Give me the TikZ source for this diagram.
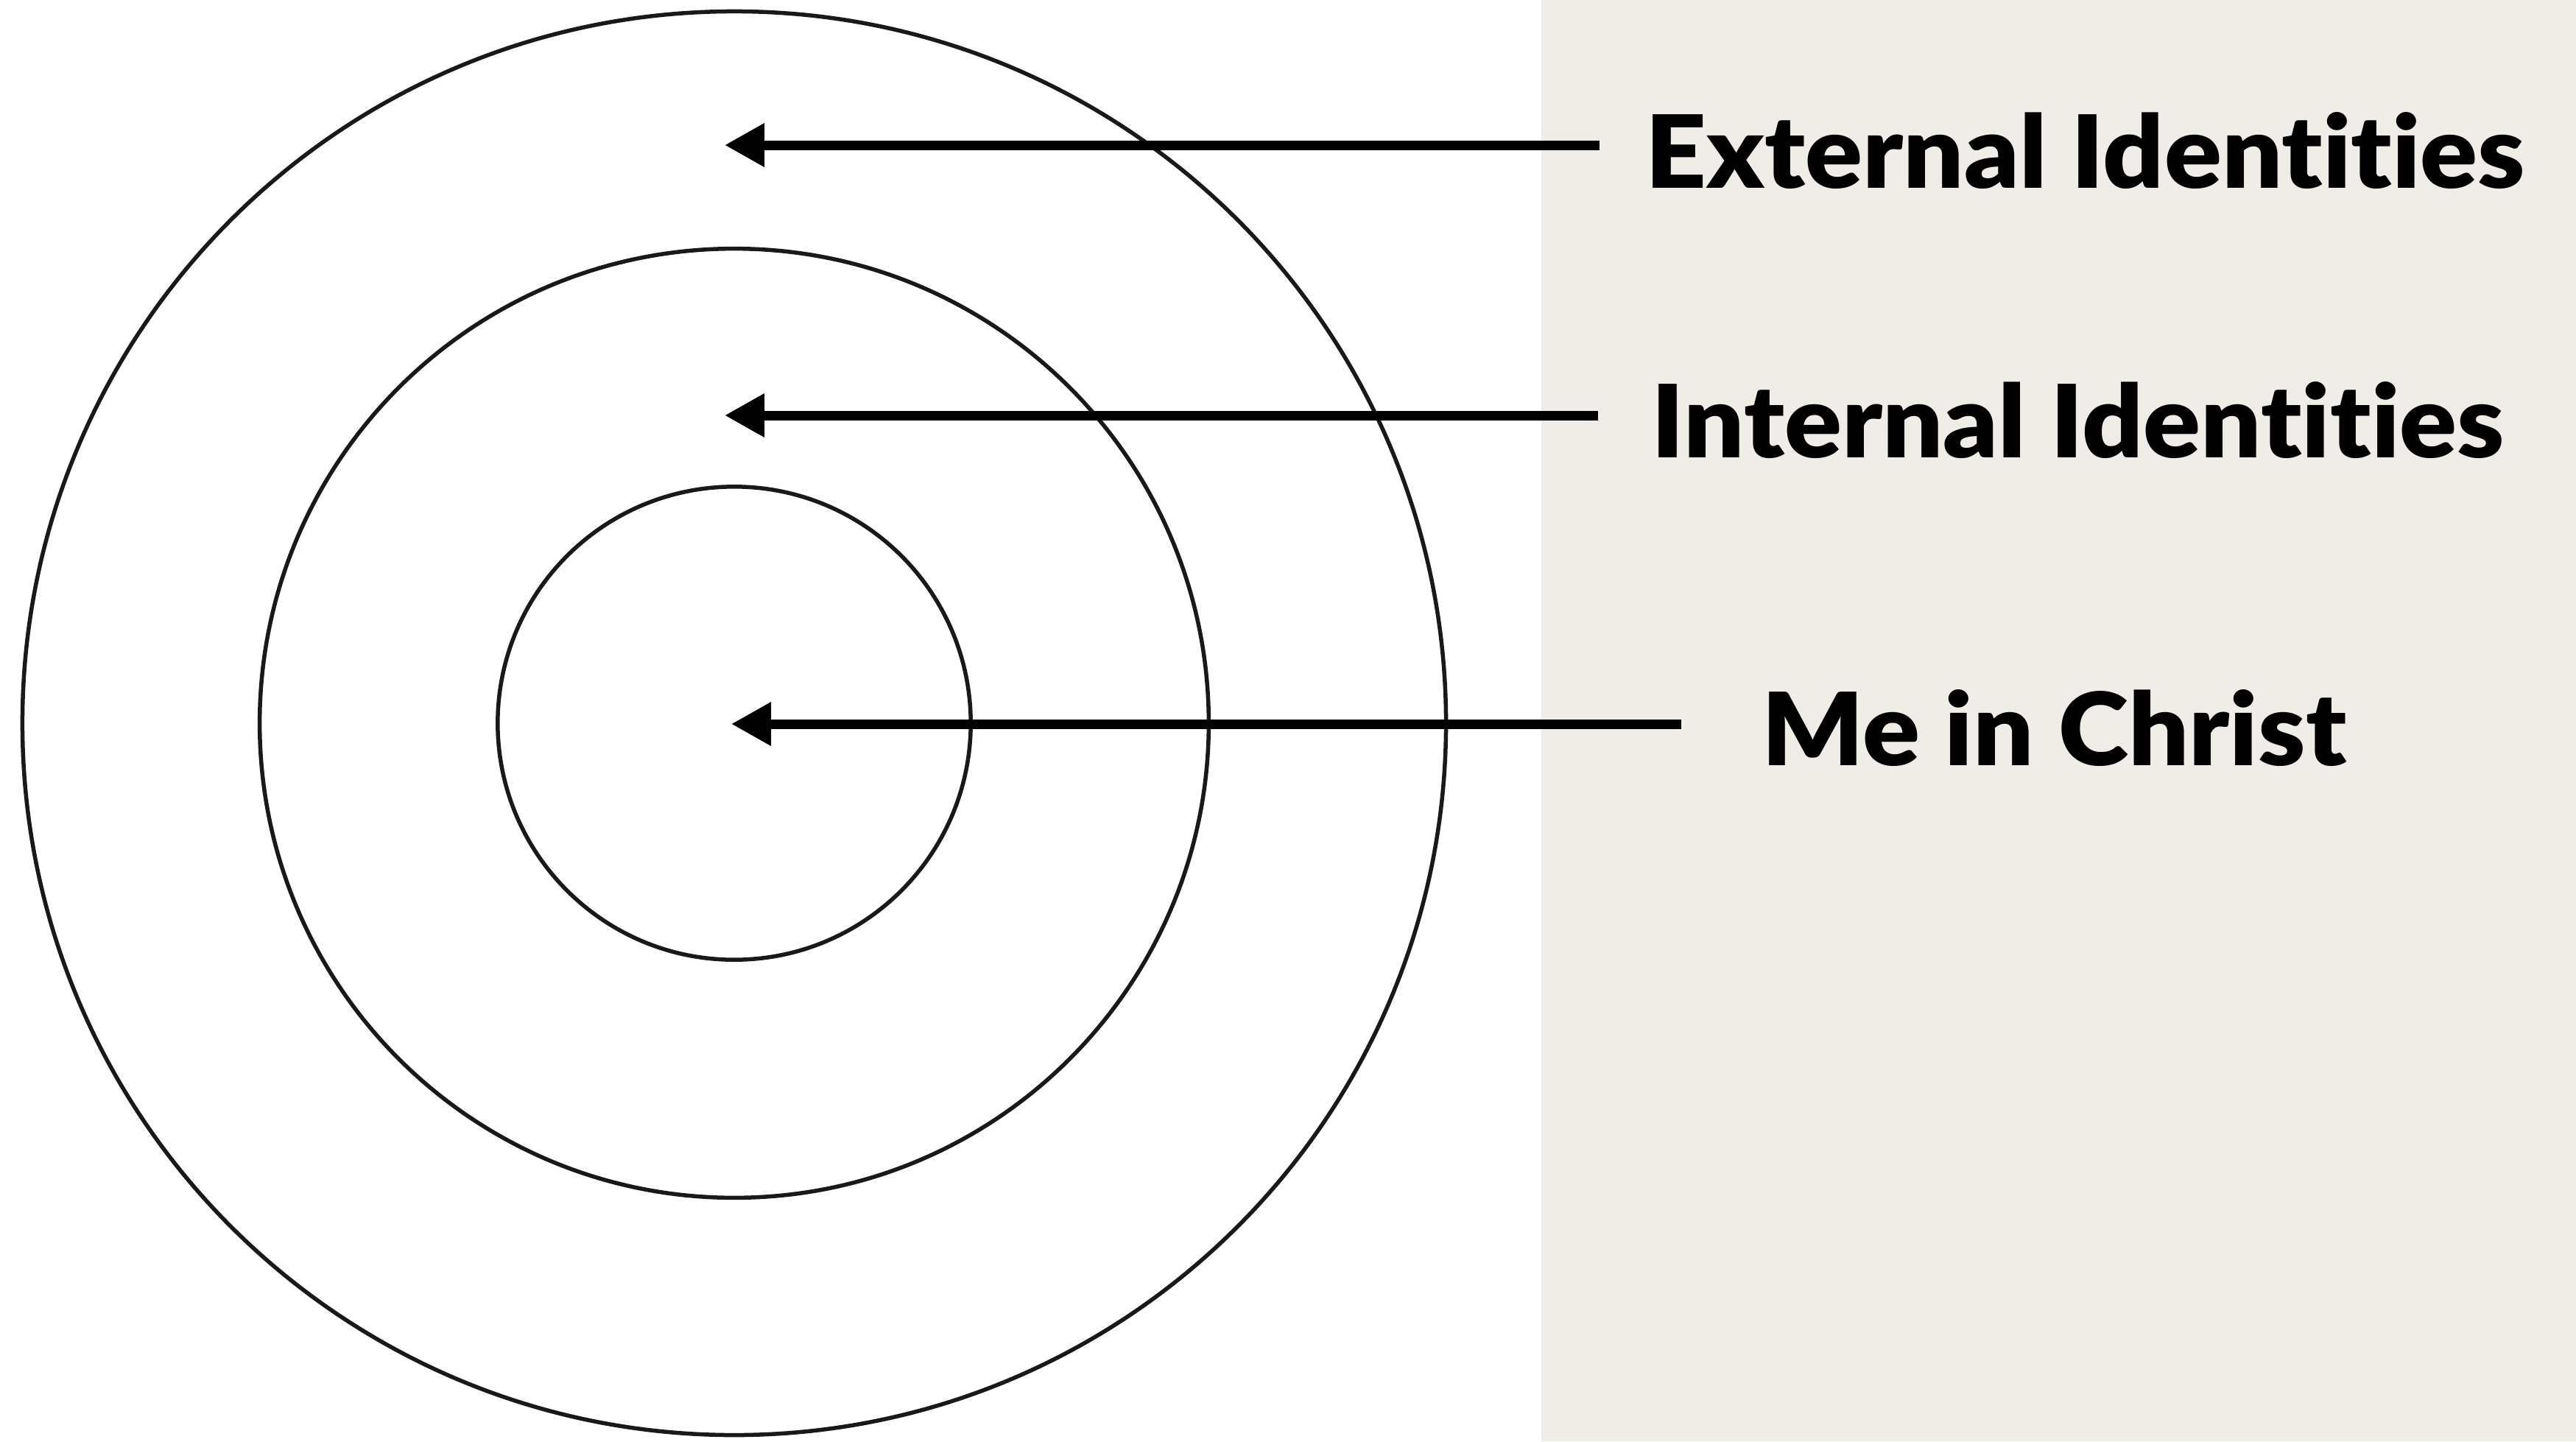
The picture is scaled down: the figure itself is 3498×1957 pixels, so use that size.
\documentclass[tikz,border=0pt]{standalone}
\usepackage{fontspec}
\setmainfont{Lato}[BoldFont={Lato Black},BoldFeatures={FakeStretch=1.055},Ligatures={NoCommon}]
\usetikzlibrary{arrows.meta}
\definecolor{panel}{RGB}{240,237,233}
\tikzset{
  ring/.style={draw=black!90, line width=0.055cm},
  pointer/.style={draw=black, line width=0.13cm, -{Triangle[length=0.54cm,width=0.56cm]}},
  lbl/.style={anchor=base west, inner sep=0pt, font=\fontsize{39}{44}\selectfont\bfseries}
}
\begin{document}
\begin{tikzpicture}[x=0.01cm,y=-0.01cm]
\useasboundingbox (0,0) rectangle (3498,1957);
\fill[white] (0,0) rectangle (3498,1957);
\fill[panel] (2093,0) rectangle (3498,1957);
\coordinate (c) at (997,982);
\draw[ring] (c) circle[radius=9.66cm];
\draw[ring] (c) circle[radius=6.44cm];
\draw[ring] (c) circle[radius=3.21cm];
\node[lbl] (ext) at (2234,255) {External Identities};
\node[lbl] (int) at (2242,621) {Internal Identities};
\node[lbl] (me) at (2392,1039) {Me in Christ};
\coordinate (extS) at (2172,197);
\coordinate (extT) at (984,197);
\coordinate (intS) at (2170,564);
\coordinate (intT) at (984,564);
\coordinate (meS) at (2283,983);
\coordinate (meT) at (993,983);
\draw[pointer] (extS) -- (extT);
\draw[pointer] (intS) -- (intT);
\draw[pointer] (meS) -- (meT);
\end{tikzpicture}
\end{document}
